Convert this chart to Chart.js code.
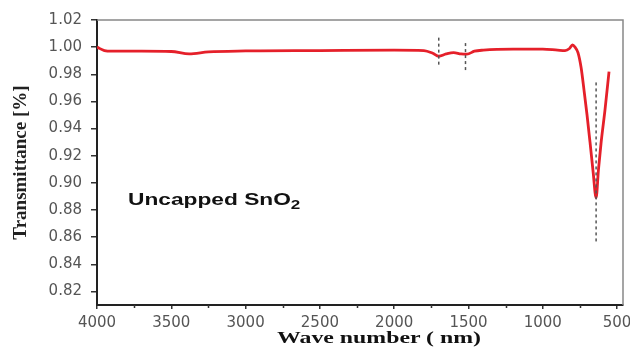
<!DOCTYPE html>
<html>
<head>
<meta charset="utf-8">
<script src="https://cdn.jsdelivr.net/npm/chart.js@4/dist/chart.umd.min.js"></script>
<style>
  html, body { margin: 0; padding: 0; background: #ffffff; }
  #wrap { position: relative; width: 630px; height: 347px; overflow: hidden; background: #fff; }
  #c { position: absolute; left: 0; top: 0; }
  .note { position: absolute; left: 128px; top: 192px; font: bold 16px 'Liberation Sans', Arial, sans-serif; line-height: 16px; color: #111; white-space: nowrap; transform: scaleX(1.42); transform-origin: left center; }
  .note sub { font-size: 0.75em; vertical-align: -4px; }
  .xtitle { position: absolute; left: 379px; top: 329px; font: bold 17px 'Liberation Serif', 'Times New Roman', serif; line-height: 17px; color: #111; white-space: nowrap; transform: translateX(-50%) scaleX(1.4); }
</style>
</head>
<body>
<div id="wrap">
  <canvas id="c" width="630" height="347"></canvas>
  <div class="note" id="note"></div>
  <div class="xtitle" id="xtitle"></div>
</div>
<script>
// ---- data ----
const waveNumbers = [4000, 3950, 3900, 3700, 3500, 3380, 3250, 3000, 2500, 2000, 1800, 1740, 1700, 1650, 1600, 1550, 1510, 1460, 1400, 1200, 1000, 900, 850, 820, 800, 783, 763, 742, 722, 702, 682, 661, 641, 625, 608, 581, 554];
const transmittance = [1.000, 0.9975, 0.9970, 0.9970, 0.9968, 0.9950, 0.9965, 0.9972, 0.9975, 0.9978, 0.9975, 0.9955, 0.9933, 0.9950, 0.9960, 0.9950, 0.9948, 0.9970, 0.9978, 0.9985, 0.9985, 0.9978, 0.9975, 0.9990, 1.0016, 1.0000, 0.9960, 0.9850, 0.9680, 0.9500, 0.9300, 0.9080, 0.8890, 0.9100, 0.9290, 0.9540, 0.9820];

const markerWaves = [1700, 1520, 641];
const markerTop = [1.007, 1.003, 0.974];
const markerBottom = [0.985, 0.983, 0.856];

const xTickValues = [4000, 3500, 3000, 2500, 2000, 1500, 1000, 500];
const xMinorTickValues = [3750, 3250, 2750, 2250, 1750, 1250, 750];
const yTickValues = [0.82, 0.84, 0.86, 0.88, 0.90, 0.92, 0.94, 0.96, 0.98, 1.00, 1.02];

const xTitleText = 'Wave number ( nm)';
const yTitleText = 'Transmittance [%]';
const noteMain = 'Uncapped SnO';
const noteSub = '2';

// ---- text overlays ----
document.getElementById('note').innerHTML = noteMain + '<sub>' + noteSub + '</sub>';
document.getElementById('xtitle').textContent = xTitleText;

const curve = waveNumbers.map((w, i) => ({ x: w, y: transmittance[i] }));
const markerSets = markerWaves.map((w, i) => ({
  data: [{ x: w, y: markerTop[i] }, { x: w, y: markerBottom[i] }],
  borderColor: '#555',
  borderWidth: 1.5,
  borderDash: [3, 3],
  pointRadius: 0,
  order: 0
}));

const framePlugin = {
  id: 'frame',
  afterDraw(chart) {
    const { ctx, chartArea: a, scales } = chart;
    ctx.save();
    ctx.strokeStyle = '#888';
    ctx.lineWidth = 1.5;
    ctx.beginPath();
    ctx.moveTo(a.left, a.top);
    ctx.lineTo(a.right, a.top);
    ctx.lineTo(a.right, a.bottom);
    ctx.stroke();
    // minor ticks on x axis
    ctx.strokeStyle = '#333';
    ctx.lineWidth = 1.5;
    ctx.beginPath();
    xMinorTickValues.forEach(v => {
      const px = Math.round(scales.x.getPixelForValue(v)) + 0.5;
      ctx.moveTo(px, a.bottom);
      ctx.lineTo(px, a.bottom + 3);
    });
    ctx.stroke();
    ctx.restore();
  }
};

new Chart(document.getElementById('c'), {
  type: 'line',
  data: {
    datasets: [
      ...markerSets,
      {
        data: curve,
        borderColor: '#e5202a',
        borderWidth: 2.8,
        pointRadius: 0,
        cubicInterpolationMode: 'monotone',
        order: 1
      }
    ]
  },
  options: {
    responsive: false,
    devicePixelRatio: 1,
    animation: false,
    layout: { padding: { top: 20, right: 7, left: 0, bottom: 0 } },
    plugins: { legend: { display: false }, tooltip: { enabled: false } },
    scales: {
      x: {
        type: 'linear',
        reverse: true,
        min: 460,
        max: 4000,
        afterBuildTicks: s => { s.ticks = xTickValues.map(v => ({ value: v })); },
        afterFit: s => { s.height = 42; s.paddingLeft = 0; s.paddingRight = 0; },
        grid: { drawOnChartArea: false, drawTicks: true, tickLength: 4, color: '#333', lineWidth: 1.5 },
        border: { display: true, color: '#222', width: 2 },
        ticks: {
          padding: 5,
          color: '#555',
          font: { family: "'DejaVu Sans', Verdana, sans-serif", size: 15 },
          maxRotation: 0,
          autoSkip: false,
          callback: v => String(v)
        },
        title: { display: false }
      },
      y: {
        min: 0.81,
        max: 1.02,
        afterBuildTicks: s => { s.ticks = yTickValues.map(v => ({ value: v })); },
        afterFit: s => { s.width = 97; s.paddingTop = 0; s.paddingBottom = 0; },
        grid: { drawOnChartArea: false, drawTicks: true, tickLength: 6, color: '#333', lineWidth: 1.5 },
        border: { display: true, color: '#222', width: 2 },
        ticks: {
          padding: 9,
          color: '#555',
          font: { family: "'DejaVu Sans', Verdana, sans-serif", size: 15 },
          autoSkip: false,
          callback: v => v.toFixed(2)
        },
        title: {
          display: true,
          text: yTitleText,
          color: '#222',
          font: { family: "'Liberation Serif', 'Times New Roman', serif", size: 19, weight: 'bold' },
          padding: { top: 10, bottom: 0 }
        }
      }
    }
  },
  plugins: [framePlugin]
});
</script>
</body>
</html>
